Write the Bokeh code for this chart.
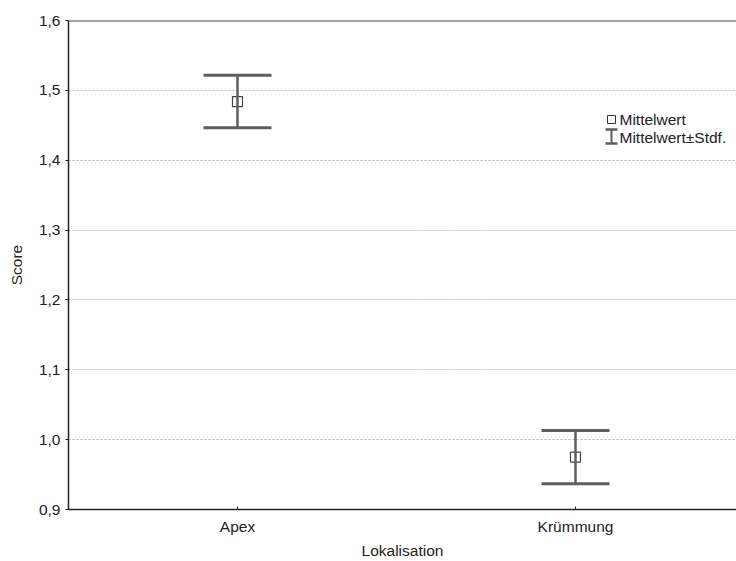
from bokeh.plotting import figure
from bokeh.models import (Range1d, FixedTicker, CustomJSTickFormatter, Whisker, TeeHead,
                          ColumnDataSource, Label, Span)
from bokeh.embed import file_html
from bokeh.resources import INLINE

# ---- data ----
categories = ["Apex", "Krümmung"]
means = [1.484, 0.975]
sds = [0.0375, 0.038]
y_ticks = [0.9, 1.0, 1.1, 1.2, 1.3, 1.4, 1.5, 1.6]
x_label = "Lokalisation"
y_label = "Score"
legend_labels = ["Mittelwert", "Mittelwert\u00b1Stdf."]

# ---- layout constants ----
W, H = 736, 561
FL, FT = 68, 20          # frame left / top inside canvas
FW, FH = W - FL, 489     # frame width / height
PX_PER_CAT = 338
Y0, Y1 = y_ticks[0], y_ticks[-1]
X0 = 0.5
X1 = X0 + FW / PX_PER_CAT

FONT = "Liberation Sans"
FS = "15.5px"
TXT = "#222222"
BAR = "#5e5e5e"

xs = [i + 1 for i in range(len(categories))]
upper = [m + s for m, s in zip(means, sds)]
lower = [m - s for m, s in zip(means, sds)]

p = figure(width=W, height=H, output_backend="svg", toolbar_location=None,
           x_range=Range1d(X0, X1), y_range=Range1d(Y0, Y1),
           min_border_left=FL, min_border_top=FT, min_border_right=0,
           min_border_bottom=H - FT - FH)
p.outline_line_color = None
p.background_fill_color = "white"
p.border_fill_color = "white"

# axes
p.xaxis.ticker = FixedTicker(ticks=xs)
p.xaxis.formatter = CustomJSTickFormatter(args=dict(labels=categories),
                                          code="return labels[Math.round(tick) - 1];")
p.yaxis.ticker = FixedTicker(ticks=y_ticks)
p.yaxis.formatter = CustomJSTickFormatter(code="return tick.toFixed(1).replace('.', ',');")
for ax in (p.xaxis, p.yaxis):
    ax.major_label_text_font = FONT
    ax.major_label_text_font_size = FS
    ax.major_label_text_color = TXT
    ax.axis_label_text_font = FONT
    ax.axis_label_text_font_size = FS
    ax.axis_label_text_font_style = "normal"
    ax.axis_label_text_color = TXT
    ax.axis_line_color = "#222222"
    ax.axis_line_width = 1.5
    ax.major_tick_line_color = "#222222"
    ax.minor_tick_line_color = None
p.xaxis.axis_label = x_label
p.yaxis.axis_label = y_label
p.xaxis.major_tick_in = 3
p.xaxis.major_tick_out = 0
p.xaxis.major_label_standoff = 8
p.xaxis.axis_label_standoff = 4
p.yaxis.major_tick_in = 0
p.yaxis.major_tick_out = 3
p.yaxis.major_label_standoff = 5
p.yaxis.axis_label_standoff = 11

# grid
p.xgrid.grid_line_color = None
p.ygrid.ticker = FixedTicker(ticks=y_ticks)
p.ygrid.grid_line_color = "#b4b4b4"
p.ygrid.grid_line_dash = "2 2"
p.ygrid.grid_line_width = 1

# top frame line
p.add_layout(Span(location=Y1, dimension="width", line_color="#444444", line_width=2))

# error bars
src = ColumnDataSource(dict(x=xs, mean=means, upper=upper, lower=lower))
p.add_layout(Whisker(source=src, base="x", upper="upper", lower="lower",
                     dimension="height", line_color=BAR, line_width=2.5,
                     upper_head=TeeHead(size=68, line_color=BAR, line_width=3),
                     lower_head=TeeHead(size=68, line_color=BAR, line_width=3),
                     level="glyph"))
p.scatter("x", "mean", source=src, marker="square", size=10,
          fill_color="white", line_color="#444444", line_width=1.2)

# ---- legend (hand-made) ----
def dx(px):  # canvas pixel x -> data
    return X0 + (px - FL) / PX_PER_CAT

def dy(py):  # canvas pixel y -> data
    return Y1 - (py - FT) / FH * (Y1 - Y0)

lsrc = ColumnDataSource(dict(x=[dx(611)], y=[dy(119)], up=[dy(129)], lo=[dy(143)]))
p.scatter("x", "y", source=lsrc, marker="square", size=8,
          fill_color="white", line_color="#333333", line_width=1)
p.add_layout(Whisker(source=lsrc, base="x", upper="up", lower="lo",
                     dimension="height", line_color=BAR, line_width=2,
                     upper_head=TeeHead(size=12, line_color=BAR, line_width=2.5),
                     lower_head=TeeHead(size=12, line_color=BAR, line_width=2.5),
                     level="glyph"))
for txt, py in zip(legend_labels, [119, 137]):
    p.add_layout(Label(x=dx(619), y=dy(py), text=txt, text_font=FONT,
                       text_font_size=FS, text_color=TXT, text_baseline="middle"))

open("out.html", "w").write(file_html(p, INLINE))
